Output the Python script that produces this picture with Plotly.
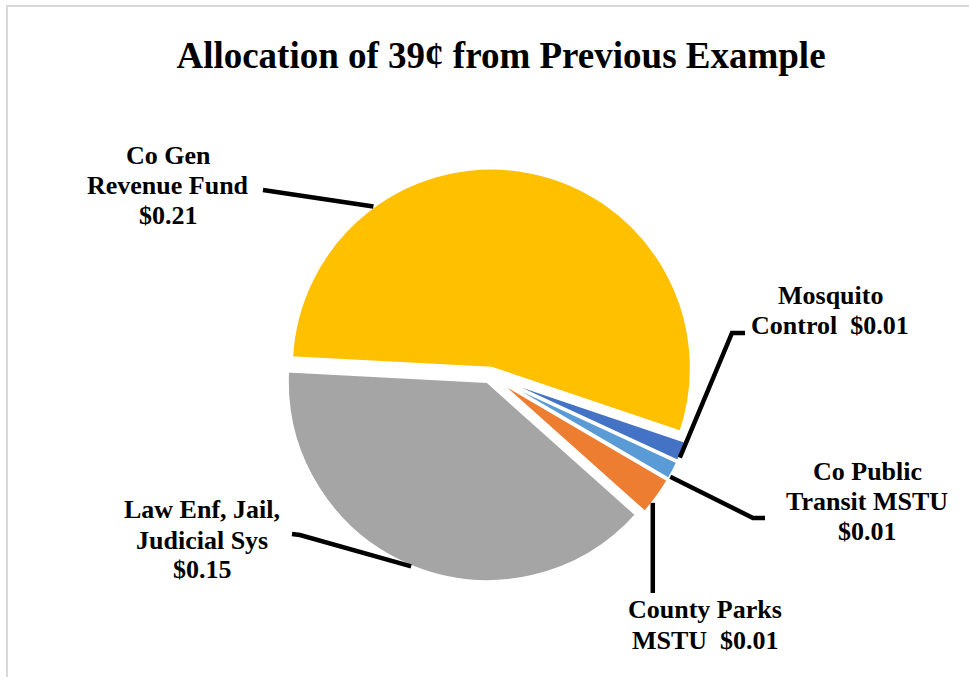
import math
import plotly.graph_objects as go

# ---- data -------------------------------------------------------------
funds = [
    "Co Gen Revenue Fund",
    "Mosquito Control",
    "Co Public Transit MSTU",
    "County Parks MSTU",
    "Law Enf, Jail, Judicial Sys",
]
amounts = [0.212, 0.0066, 0.0060, 0.0124, 0.1530]   # dollars out of 39 cents
colors = ["#FFC000", "#4472C4", "#5B9BD5", "#ED7D31", "#A5A5A5"]

# label text lines; the last piece of each label is the formatted amount
label_lines = [
    ["Co Gen", "Revenue Fund", "{amt}"],
    ["Mosquito", "Control\u00a0 {amt}"],
    ["Co Public", "Transit MSTU", "{amt}"],
    ["County Parks", "MSTU\u00a0 {amt}"],
    ["Law Enf, Jail,", "Judicial Sys", "{amt}"],
]

# ---- page / pie geometry (pixels) ------------------------------------
W, H = 969, 677
CX, CY, R = 490, 375, 200
PULL = 0.035
ROTATION = 273          # degrees clockwise from 12 o'clock
FONT = "Times New Roman, Liberation Serif, serif"


def px(x):
    return x / W


def py(y):
    return 1 - y / H


half_box = R * (1 + PULL)
dom_x = [px(CX - 300), px(CX + 300)]
dom_y = [py(CY + half_box), py(CY - half_box)]

fig = go.Figure(
    go.Pie(
        labels=funds,
        values=amounts,
        sort=False,
        direction="clockwise",
        rotation=ROTATION,
        pull=[PULL] * len(amounts),
        marker=dict(colors=colors, line=dict(color="white", width=3)),
        textinfo="none",
        hoverinfo="label+value",
        domain=dict(x=dom_x, y=dom_y),
    )
)

# ---- slice edge points used by the leader lines ----------------------
total = sum(amounts)
starts, spans = [], []
acc = ROTATION
for v in amounts:
    span = 360 * v / total
    starts.append(acc)
    spans.append(span)
    acc += span


def edge_point(i, frac):
    """Pixel point on the outer arc of slice i, frac of the way through it."""
    mid = math.radians(starts[i] + spans[i] / 2)
    ax = CX + PULL * R * math.sin(mid)
    ay = CY - PULL * R * math.cos(mid)
    a = math.radians(starts[i] + frac * spans[i])
    return ax + R * math.sin(a), ay - R * math.cos(a)


# where along each slice the leader touches, and the bends toward the label
leader_frac = [0.26, 0.8, 0.85, 0.69, 0.5]
leader_bends = [
    [(263, 190)],
    [(732, 333), (745, 333)],
    [(753, 518), (765, 518)],
    [None],                      # straight down from the slice
    [(300, 535), (292, 534)],
]
# label line centres (pixels)
label_pos = [
    (168, [155, 185, 215]),
    (830, [296, 326]),
    (867, [471, 501, 531]),
    (705, [609, 640]),
    (202, [510, 540, 569]),
]

shapes = []
for i in range(len(amounts)):
    x0, y0 = edge_point(i, leader_frac[i])
    pts = [(x0, y0)]
    for b in leader_bends[i]:
        pts.append((x0, 593) if b is None else b)
    path = "M " + " L ".join(f"{px(x):.5f},{py(y):.5f}" for x, y in pts)
    shapes.append(dict(type="path", xref="paper", yref="paper", path=path,
                       line=dict(color="black", width=4.5)))

# chart-area border (only top and left edges fall inside the page)
shapes.append(dict(type="rect", xref="paper", yref="paper",
                   x0=px(7), x1=px(W + 20), y0=py(H + 20), y1=py(6),
                   line=dict(color="#D9D9D9", width=2), layer="below"))

annotations = []
for i, (lx, ys) in enumerate(label_pos):
    amt = f"${amounts[i]:.2f}"
    for line, ly in zip(label_lines[i], ys):
        annotations.append(dict(
            text=line.format(amt=amt), x=px(lx), y=py(ly),
            xref="paper", yref="paper", xanchor="center", yanchor="middle",
            showarrow=False,
            font=dict(family=FONT, size=26, color="black", weight="bold"),
        ))

fig.update_layout(
    width=W, height=H,
    margin=dict(l=0, r=0, t=0, b=0),
    paper_bgcolor="white",
    plot_bgcolor="white",
    showlegend=False,
    title=dict(
        text="Allocation of 39¢ from Previous Example",
        x=px(501), xanchor="center", xref="paper",
        y=py(55), yanchor="middle", yref="container",
        font=dict(family=FONT, size=37, color="black", weight="bold"),
    ),
    shapes=shapes,
    annotations=annotations,
)

fig.write_html("out.html", config=dict(displayModeBar=False))
